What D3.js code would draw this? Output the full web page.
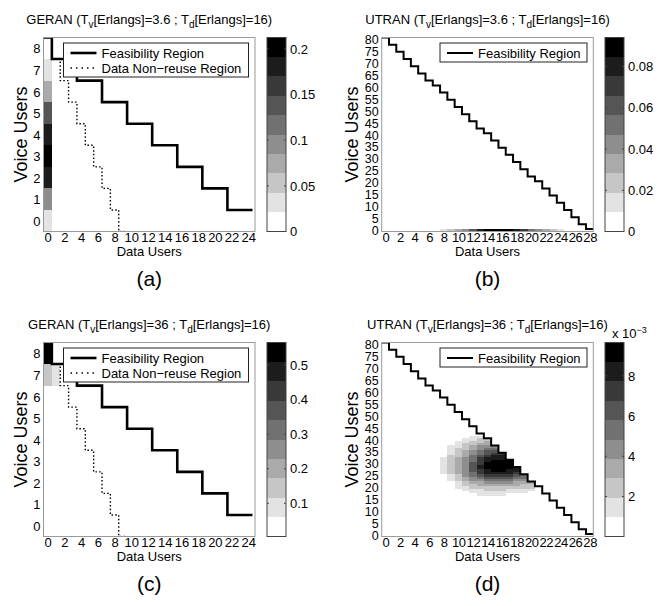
<!DOCTYPE html>
<html>
<head>
<meta charset="utf-8">
<script src="https://cdn.jsdelivr.net/npm/d3@7"></script>
<style>
  body { margin: 0; background: #fff; }
  text { font-family: "Liberation Sans", Arial, Helvetica, sans-serif; }
</style>
</head>
<body>
<div id="chart"></div>
<script>
// ---------------- data ----------------
// GERAN: voice users 0..8, max data users on the feasibility border
const geranVoice = [0, 1, 2, 3, 4, 5, 6, 7, 8];
const geranFeasMaxData = [24, 21, 18, 15, 12, 9, 6, 3, 0];
const geranNonReuseVoice = [-1, 0, 1, 2, 3, 4, 5, 6, 7, 8];
const geranNonReuseMaxData = [9, 8, 7, 6, 5, 4, 3, 2, 1, 0];
const geranXTicks = [0, 2, 4, 6, 8, 10, 12, 14, 16, 18, 20, 22, 24];
const geranYTicks = [0, 1, 2, 3, 4, 5, 6, 7, 8];

// UTRAN: data users 0..28, max voice users on the feasibility border
const utranData = [0, 1, 2, 3, 4, 5, 6, 7, 8, 9, 10, 11, 12, 13, 14, 15, 16, 17, 18, 19, 20, 21, 22, 23, 24, 25, 26, 27, 28];
const utranFeasMaxVoice = [80, 77, 74, 71, 68, 65, 62, 60, 57, 54, 51, 48, 45, 42, 40, 37, 34, 31, 28, 25, 22, 20, 17, 14, 11, 8, 5, 2, 0];
const utranXTicks = [0, 2, 4, 6, 8, 10, 12, 14, 16, 18, 20, 22, 24, 26, 28];
const utranYTicks = [0, 5, 10, 15, 20, 25, 30, 35, 40, 45, 50, 55, 60, 65, 70, 75, 80];

// (a) probability, data users = 0, voice users 0..8
const probA = [0.027, 0.098, 0.177, 0.212, 0.191, 0.138, 0.083, 0.041, 0.019];
const cbarA = [0, 0.2125];
const cbarTicksA = [0, 0.05, 0.1, 0.15, 0.2];

// (b) probability, voice users = 0
const probBData = [7, 8, 9, 10, 11, 12, 13, 14, 15, 16, 17, 18, 19, 20, 21, 22, 23, 24, 25];
const probB = [0.006, 0.011, 0.020, 0.032, 0.047, 0.063, 0.077, 0.088, 0.094, 0.094, 0.089, 0.079, 0.066, 0.053, 0.040, 0.029, 0.020, 0.014, 0.009];
const cbarB = [0, 0.0941];
const cbarTicksB = [0, 0.02, 0.04, 0.06, 0.08];

// (c) probability cells
const probCData = [0, 0, 1];
const probCVoice = [8, 7, 7];
const probC = [0.56, 0.14, 0.08];
const cbarC = [0.004, 0.565];
const cbarTicksC = [0.1, 0.2, 0.3, 0.4, 0.5];

// (d) probability x 10^-3, one row per voice level: first data user, then one digit per cell
const probDVoice = [41, 40, 39, 38, 37, 36, 35, 34, 33, 32, 31, 30, 29, 28, 27, 26, 25, 24, 23, 22, 21, 20, 19, 18, 17];
const probDStart = [12, 11, 10, 10, 9, 9, 9, 9, 9, 8, 8, 8, 8, 8, 8, 8, 9, 9, 9, 10, 10, 10, 11, 12, 13];
const probDRows = [
  "11",
  "1122",
  "11223",
  "12233",
  "1123444",
  "1223455",
  "1234566",
  "12345677",
  "22356788",
  "123457888",
  "1234578999",
  "1234679999",
  "1234689999",
  "12346899998",
  "12346789988",
  "12345788887",
  "12456777765",
  "12345666655",
  "12344555544",
  "12334444333",
  "12233333322",
  "11222222222",
  "1112221111",
  "11111111",
  "1111"
];
const cbarD = [0.00001, 0.00966];
const cbarTicksD = [0.002, 0.004, 0.006, 0.008];

const panelNames = ["GERAN", "UTRAN", "GERAN", "UTRAN"];
const panelVoiceErl = ["3.6", "3.6", "36", "36"];
const panelDataErl = ["16", "16", "16", "16"];
const panelLetters = ["(a)", "(b)", "(c)", "(d)"];

// ---------------- drawing ----------------
const svg = d3.select("#chart").append("svg")
    .attr("width", 661)
    .attr("height", 606);

// flipped gray colormap with 10 levels
const grays = d3.range(10).map(i => {
    const c = Math.round(255 * (1 - i / 9));
    return d3.rgb(c, c, c).formatHex();
});

function geranPath(voice, maxData) {
    const pts = [];
    let xPrev = -0.5;
    for (let i = voice.length - 1; i >= 0; i--) {
        pts.push([xPrev, voice[i] + 0.5]);
        pts.push([maxData[i] + 0.5, voice[i] + 0.5]);
        xPrev = maxData[i] + 0.5;
    }
    return pts;
}

function utranPath(data, maxVoice) {
    const pts = [];
    data.forEach((d, i) => {
        pts.push([d - 0.5, maxVoice[i] + 0.5]);
        pts.push([d + 0.5, maxVoice[i] + 0.5]);
    });
    return pts;
}

function drawPanel(cfg, idx) {
    const g = svg.append("g");
    const x = d3.scaleLinear().domain(cfg.xDomain).range([cfg.left, cfg.right]);
    const y = d3.scaleLinear().domain(cfg.yDomain).range([cfg.bottom, cfg.top]);
    const color = d3.scaleQuantize().domain(cfg.cDomain).range(grays);
    const cx = (cfg.left + cfg.right) / 2;
    const cy = (cfg.top + cfg.bottom) / 2;

    const clipId = "clip" + idx;
    svg.append("clipPath").attr("id", clipId)
        .append("rect")
        .attr("x", cfg.left).attr("y", cfg.top)
        .attr("width", cfg.right - cfg.left).attr("height", cfg.bottom - cfg.top);

    const plot = g.append("g").attr("clip-path", `url(#${clipId})`);

    // heat cells
    plot.selectAll(".cell")
        .data(cfg.cells.filter(c => color(c.p) !== grays[0]))
        .enter()
        .append("rect")
        .attr("class", "cell")
        .attr("x", c => x(c.d - 0.5))
        .attr("y", c => y(c.v + 0.5))
        .attr("width", c => x(c.d + 0.5) - x(c.d - 0.5))
        .attr("height", c => y(c.v - 0.5) - y(c.v + 0.5))
        .attr("shape-rendering", "crispEdges")
        .style("fill", c => color(c.p));

    const line = d3.line().x(p => x(p[0])).y(p => y(p[1]));

    cfg.lines.forEach(l => {
        plot.append("path")
            .attr("d", line(l.pts))
            .attr("fill", "none")
            .attr("stroke", "#000")
            .attr("stroke-width", l.width)
            .attr("stroke-dasharray", l.dash || null);
    });

    // axes box
    g.append("rect")
        .attr("x", cfg.left).attr("y", cfg.top)
        .attr("width", cfg.right - cfg.left).attr("height", cfg.bottom - cfg.top)
        .attr("fill", "none")
        .attr("stroke", "#9a9a9a")
        .attr("stroke-width", 1);

    // axes
    const xAxis = d3.axisBottom(x).tickValues(cfg.xTicks).tickSize(0).tickPadding(1);
    const yAxis = d3.axisLeft(y).tickValues(cfg.yTicks).tickSize(0).tickPadding(3);

    g.append("g")
        .attr("transform", `translate(0,${cfg.bottom})`)
        .call(xAxis)
        .call(a => a.select(".domain").remove())
        .attr("font-size", 13)
        .attr("font-family", null)
        .selectAll("text").attr("fill", "#000").attr("letter-spacing", cfg.xLetterSpacing);

    g.append("g")
        .attr("transform", `translate(${cfg.left},0)`)
        .call(yAxis)
        .call(a => a.select(".domain").remove())
        .attr("font-size", cfg.yTickSize)
        .attr("font-family", null)
        .selectAll("text").attr("fill", "#000").attr("dy", "0.36em");

    // axis titles
    g.append("text")
        .attr("x", cx).attr("y", cfg.bottom + 24)
        .attr("text-anchor", "middle")
        .attr("font-size", 13)
        .text("Data Users");

    g.append("text")
        .attr("transform", `translate(${cfg.ylabelX},${cy}) rotate(-90)`)
        .attr("text-anchor", "middle")
        .attr("font-size", 18)
        .text("Voice Users");

    // title with subscripts
    const t = g.append("text")
        .attr("x", cx).attr("y", cfg.top - 14)
        .attr("text-anchor", "middle")
        .attr("font-size", 13);
    t.append("tspan").text(panelNames[idx] + " (T");
    t.append("tspan").attr("dy", 4).attr("font-size", 10).text("v");
    t.append("tspan").attr("dy", -4).text("[Erlangs]=" + panelVoiceErl[idx] + " ; T");
    t.append("tspan").attr("dy", 4).attr("font-size", 10).text("d");
    t.append("tspan").attr("dy", -4).text("[Erlangs]=" + panelDataErl[idx] + ")");

    // panel letter
    g.append("text")
        .attr("x", cx).attr("y", cfg.bottom + 54)
        .attr("text-anchor", "middle")
        .attr("font-size", 21)
        .text(panelLetters[idx]);

    // legend
    const lg = g.append("g").attr("transform", `translate(${cfg.legend.x},${cfg.top + 5.5})`);
    lg.append("rect")
        .attr("width", cfg.legend.w)
        .attr("height", 15 * cfg.lines.length + 4)
        .attr("fill", "#fff")
        .attr("stroke", "#222")
        .attr("stroke-width", 1);
    cfg.lines.forEach((l, i) => {
        const yy = 10 + 15 * i;
        lg.append("line")
            .attr("x1", 7).attr("x2", 33)
            .attr("y1", yy).attr("y2", yy)
            .attr("stroke", "#000")
            .attr("stroke-width", l.width)
            .attr("stroke-dasharray", l.dash ? "1.5,4" : null);
        lg.append("text")
            .attr("x", 38).attr("y", yy + 4.6)
            .attr("font-size", 13)
            .text(l.name);
    });

    // colorbar
    const cb = g.append("g");
    const cScale = d3.scaleLinear().domain(cfg.cDomain).range([cfg.bottom, cfg.top]);
    const step = (cfg.cDomain[1] - cfg.cDomain[0]) / 10;
    cb.selectAll(".band")
        .data(grays)
        .enter()
        .append("rect")
        .attr("class", "band")
        .attr("x", cfg.cbLeft)
        .attr("width", cfg.cbRight - cfg.cbLeft)
        .attr("y", (c, i) => cScale(cfg.cDomain[0] + (i + 1) * step))
        .attr("height", (c, i) => cScale(cfg.cDomain[0] + i * step) - cScale(cfg.cDomain[0] + (i + 1) * step))
        .attr("shape-rendering", "crispEdges")
        .style("fill", c => c);
    cb.append("rect")
        .attr("x", cfg.cbLeft).attr("y", cfg.top)
        .attr("width", cfg.cbRight - cfg.cbLeft).attr("height", cfg.bottom - cfg.top)
        .attr("fill", "none")
        .attr("stroke", "#444")
        .attr("stroke-width", 1);
    cfg.cTicks.forEach(tv => {
        const yy = cScale(tv);
        cb.append("line").attr("x1", cfg.cbLeft).attr("x2", cfg.cbLeft + 2)
            .attr("y1", yy).attr("y2", yy).attr("stroke", "#444");
        cb.append("line").attr("x1", cfg.cbRight - 2).attr("x2", cfg.cbRight)
            .attr("y1", yy).attr("y2", yy).attr("stroke", "#444");
        cb.append("text")
            .attr("x", cfg.cbRight + 4).attr("y", yy)
            .attr("dy", "0.36em")
            .attr("font-size", 13)
            .text(cfg.cFormat(tv));
    });
    if (cfg.cExp) {
        const e = cb.append("text")
            .attr("x", cfg.cbRight - 12).attr("y", cfg.top - 5)
            .attr("font-size", 13);
        e.append("tspan").text("x 10");
        e.append("tspan").attr("dy", -5).attr("font-size", 9).text("−3");
    }
}

// cells
const cellsA = probA.map((p, i) => ({ d: 0, v: geranVoice[i], p: p }));
const cellsB = probB.map((p, i) => ({ d: probBData[i], v: 0, p: p }));
const cellsC = probC.map((p, i) => ({ d: probCData[i], v: probCVoice[i], p: p }));
const cellsD = [];
probDRows.forEach((row, r) => {
    row.split("").forEach((ch, k) => {
        cellsD.push({ d: probDStart[r] + k, v: probDVoice[r], p: (+ch + 0.5) / 1000 });
    });
});

const feasG = { name: "Feasibility Region", pts: geranPath(geranVoice, geranFeasMaxData), width: 2.6 };
const nonReuseG = { name: "Data Non\u2212reuse Region", pts: geranPath(geranNonReuseVoice, geranNonReuseMaxData), width: 1.4, dash: "1.5,2.2" };
const feasU = { name: "Feasibility Region", pts: utranPath(utranData, utranFeasMaxVoice), width: 2 };

const leftCol = { left: 43.5, right: 255, cbLeft: 267, cbRight: 286, ylabelX: 27, xDomain: [-0.5, 24.8], yDomain: [-0.5, 8.5], xTicks: geranXTicks, yTicks: geranYTicks, xLetterSpacing: 0, yTickSize: 13, legend: { x: 63.5, w: 185 } };
const rightCol = { left: 381.7, right: 593.3, cbLeft: 605, cbRight: 624, ylabelX: 358, xDomain: [-0.5, 28.5], yDomain: [-0.5, 80.5], xTicks: utranXTicks, yTicks: utranYTicks, xLetterSpacing: -0.4, yTickSize: 12.5, legend: { x: 440, w: 147 } };
const topRow = { top: 37.5, bottom: 231.5 };
const botRow = { top: 342.5, bottom: 536.5 };
const fmt = v => String(v);

const panels = [
    Object.assign({}, leftCol, topRow, { cells: cellsA, lines: [feasG, nonReuseG], cDomain: cbarA, cTicks: cbarTicksA, cFormat: fmt }),
    Object.assign({}, rightCol, topRow, { cells: cellsB, lines: [feasU], cDomain: cbarB, cTicks: cbarTicksB, cFormat: fmt }),
    Object.assign({}, leftCol, botRow, { cells: cellsC, lines: [feasG, nonReuseG], cDomain: cbarC, cTicks: cbarTicksC, cFormat: fmt }),
    Object.assign({}, rightCol, botRow, { cells: cellsD, lines: [feasU], cDomain: cbarD, cTicks: cbarTicksD, cFormat: v => String(Math.round(v * 1000)), cExp: true })
];

panels.forEach((p, i) => drawPanel(p, i));
</script>
</body>
</html>
